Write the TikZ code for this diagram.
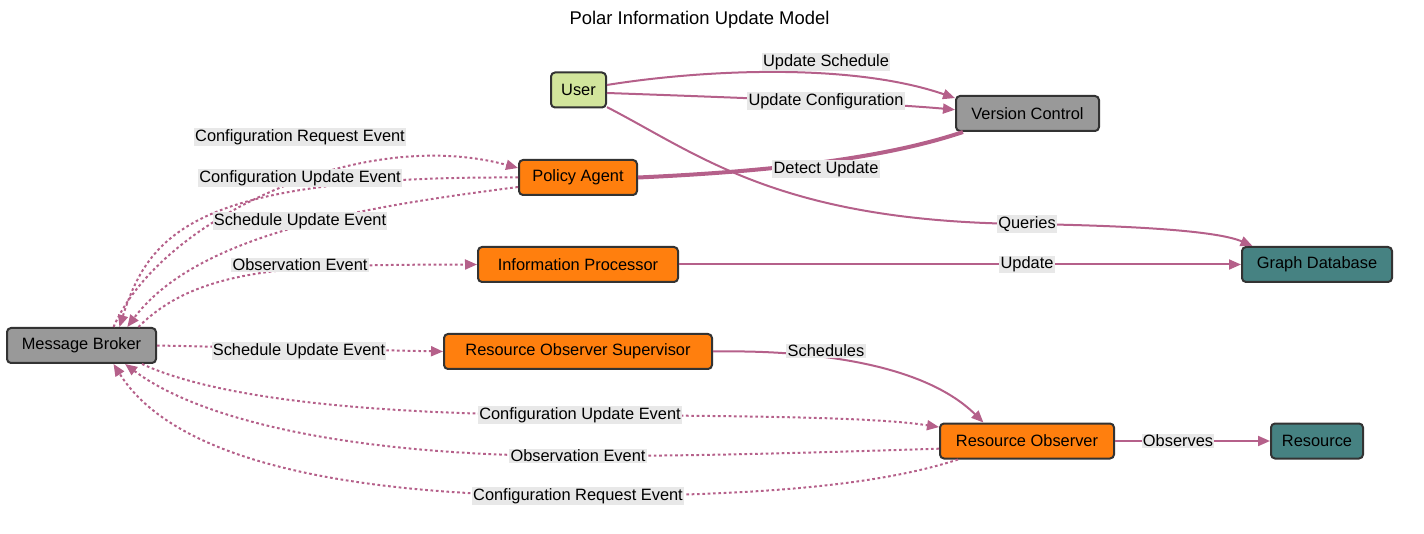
\documentclass[tikz,border=0pt]{standalone}
\usepackage{fontspec}
\setmainfont{Liberation Sans}
\usetikzlibrary{arrows.meta}
\definecolor{edgecol}{HTML}{B5608A}
\definecolor{boxline}{HTML}{333333}
\definecolor{labelbg}{HTML}{E8E8E8}
\definecolor{usergreen}{HTML}{D2E59C}
\definecolor{agentorange}{HTML}{FF7F0E}
\definecolor{toolgray}{HTML}{999999}
\definecolor{storeteal}{HTML}{468282}
\tikzstyle{box}=[draw=boxline,line width=1.5pt,rounded corners=3pt,minimum height=26.25pt,inner xsep=4pt,font=\fontsize{12.3}{14}\selectfont]
\tikzstyle{link}=[draw=edgecol,line width=1.5pt,-{Triangle[length=9pt,width=7.5pt]}]
\tikzstyle{event}=[link,dash pattern=on 2pt off 2pt]
\tikzstyle{elabel}=[fill=labelbg,inner sep=1pt,font=\fontsize{12.3}{14}\selectfont]
\tikzset{wd/.style={minimum width=#1*0.75pt}}

\begin{document}
\begin{tikzpicture}[x=0.75pt,y=-0.75pt]
  \useasboundingbox (0,0) rectangle (1424,534);
  \node[font=\fontsize{13.8}{16}\selectfont] (title) at (699.5,20) {Polar Information Update Model};

  \node[box,wd=55,fill=usergreen] (user) at (578.5,90) {User};
  \node[box,wd=143,fill=toolgray] (vc) at (1027.5,113.5) {Version Control};
  \node[box,wd=118,fill=agentorange] (pa) at (578,177.5) {Policy Agent};
  \node[box,wd=200,fill=agentorange] (ip) at (578,264.5) {Information Processor};
  \node[box,wd=150,fill=storeteal] (gdb) at (1317,264.5) {Graph Database};
  \node[box,wd=149,fill=toolgray] (mb) at (81.5,345.5) {Message Broker};
  \node[box,wd=268,fill=agentorange] (ros) at (578,351.5) {Resource Observer Supervisor};
  \node[box,wd=174,fill=agentorange] (ro) at (1027,441) {Resource Observer};
  \node[box,wd=92,fill=storeteal] (res) at (1317,441) {Resource};

  \draw[link] (user.10) .. controls (700,70) and (850,62) .. (vc.168);
  \draw[link] (user.-6) .. controls (750,98) and (880,103) .. (vc.177);
  \draw[link,-,line width=3pt] (pa.east) .. controls (760,172) and (880,160) .. (vc.196);
  \draw[link] (user.-31) .. controls (700,155) and (780,222) .. (1027,224)
    .. controls (1150,226) and (1220,232) .. (gdb.164);
  \draw[link] (ip.east) -- (gdb.west);
  \draw[event] (mb.east) -- (ros.west);
  \draw[link] (ros.east) .. controls (800,350) and (920,360) .. (ro.157);
  \draw[link] (ro.east) -- (res.west);

  \draw[event] (mb.30) .. controls (160,220) and (360,125) .. (pa.171);
  \draw[event] (pa.west) .. controls (200,176) and (150,230) .. (mb.26);
  \draw[event] (pa.189) .. controls (380,205) and (200,230) .. (mb.22);
  \draw[event] (mb.18) .. controls (200,265) and (300,265) .. (ip.west);
  \draw[event] (mb.-17) .. controls (220,400) and (380,415) .. (580,415)
    .. controls (780,416) and (880,418) .. (ro.171);
  \draw[event] (ro.185) .. controls (800,453) and (700,456) .. (578,456)
    .. controls (350,456) and (200,420) .. (mb.-23);
  \draw[event] (ro.195) .. controls (880,485) and (760,496) .. (578,496)
    .. controls (380,496) and (180,470) .. (mb.-30);

  \node[elabel] (l-sched) at (826,62) {Update Schedule};
  \node[elabel] (l-conf) at (826,101) {Update Configuration};
  \node[elabel] (l-detect) at (826,169) {Detect Update};
  \node[elabel] (l-queries) at (1027,224) {Queries};
  \node[elabel] (l-update) at (1027,264.5) {Update};
  \node[elabel] (l-schedules) at (826,351) {Schedules};
  \node[elabel] (l-observes) at (1178,441) {Observes};
  \node[elabel] (l-pa-req) at (300,137) {Configuration Request Event};
  \node[elabel] (l-pa-conf) at (300,178) {Configuration Update Event};
  \node[elabel] (l-pa-sched) at (300,221) {Schedule Update Event};
  \node[elabel] (l-ip-obs) at (300,265) {Observation Event};
  \node[elabel] (l-ros-sched) at (299,351) {Schedule Update Event};
  \node[elabel] (l-ro-conf) at (580,415) {Configuration Update Event};
  \node[elabel] (l-ro-obs) at (578,456) {Observation Event};
  \node[elabel] (l-ro-req) at (578,496) {Configuration Request Event};
\end{tikzpicture}
\end{document}
